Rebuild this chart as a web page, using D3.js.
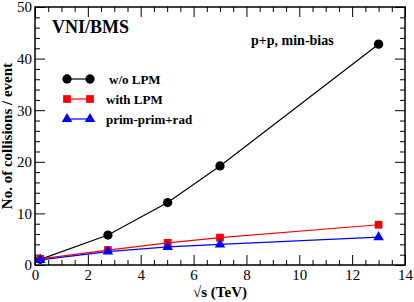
<!DOCTYPE html>
<html lang="en">
<head>
<meta charset="UTF-8">
<title>VNI/BMS collisions per event</title>
<script src="https://d3js.org/d3.v7.min.js"></script>
<style>
    body { margin: 0; background: #fff; }
    svg { display: block; font-family: "Liberation Serif", "Times New Roman", serif; }
    .tick line { stroke: #000; stroke-width: 1; }
    .domain { display: none; }
    .lbl { font-weight: bold; fill: #000; }
</style>
</head>
<body>
<script>
    // values
    const energies = [0.2, 2.76, 5.02, 7, 13];
    const woLPM = [1.1, 5.8, 12.1, 19.2, 42.8];
    const withLPM = [1.2, 2.9, 4.3, 5.3, 7.8];
    const primRad = [1.0, 2.6, 3.5, 4.0, 5.4];
    const seriesNames = ["w/o LPM", "with LPM", "prim-prim+rad"];
    const xTicks = [0, 2, 4, 6, 8, 10, 12, 14];
    const yTicks = [0, 10, 20, 30, 40, 50];

    const width = 414, height = 302;
    const margin = { top: 7, right: 9, bottom: 37, left: 35 };
    const serif = "'Liberation Serif', 'Times New Roman', serif";

    const svg = d3.select("body").append("svg")
        .attr("width", width)
        .attr("height", height);

    const x = d3.scaleLinear().domain([0, 14]).range([margin.left, width - margin.right]);
    const y = d3.scaleLinear().domain([0, 50]).range([height - margin.bottom, margin.top]);

    const xMinor = d3.range(0, 14.01, 0.5).filter(v => v % 2 !== 0);
    const yMinor = d3.range(0, 50.01, 2).filter(v => v % 10 !== 0);

    // axes, ticks pointing inward on all four sides
    const plotB = height - margin.bottom, plotT = margin.top;
    const plotL = margin.left, plotR = width - margin.right;

    function addAxis(axis, tx, ty) {
        svg.append("g")
            .attr("transform", `translate(${tx},${ty})`)
            .call(axis)
            .selectAll("text")
            .style("font-family", serif)
            .style("font-size", "15px")
            .style("font-weight", "normal")
            .attr("fill", "#000");
    }

    addAxis(d3.axisBottom(x).tickValues(xTicks).tickSize(-10).tickPadding(4), 0, plotB);
    addAxis(d3.axisBottom(x).tickValues(xMinor).tickSize(-5).tickFormat(""), 0, plotB);
    addAxis(d3.axisTop(x).tickValues(xTicks).tickSize(-10).tickFormat(""), 0, plotT);
    addAxis(d3.axisTop(x).tickValues(xMinor).tickSize(-5).tickFormat(""), 0, plotT);
    addAxis(d3.axisLeft(y).tickValues(yTicks).tickSize(-10).tickPadding(3), plotL, 0);
    addAxis(d3.axisLeft(y).tickValues(yMinor).tickSize(-5).tickFormat(""), plotL, 0);
    addAxis(d3.axisRight(y).tickValues(yTicks).tickSize(-10).tickFormat(""), plotR, 0);
    addAxis(d3.axisRight(y).tickValues(yMinor).tickSize(-5).tickFormat(""), plotR, 0);

    svg.append("rect")
        .attr("x", plotL).attr("y", plotT)
        .attr("width", plotR - plotL).attr("height", plotB - plotT)
        .attr("fill", "none").attr("stroke", "#000").attr("stroke-width", 1.5);

    // series
    const series = [
        { name: seriesNames[0], values: woLPM, color: "#000", shape: "circle" },
        { name: seriesNames[1], values: withLPM, color: "#ff0000", shape: "square" },
        { name: seriesNames[2], values: primRad, color: "#0000ff", shape: "triangle" }
    ];

    const symbolOf = s => s === "circle" ? d3.symbolCircle : s === "square" ? d3.symbolSquare : d3.symbolTriangle;
    const sizeOf = s => s === "circle" ? 68 : s === "square" ? 60 : 48;

    const line = d3.line().x(d => x(d[0])).y(d => y(d[1]));

    series.forEach(s => {
        const pts = energies.map((e, i) => [e, s.values[i]]);
        svg.append("path")
            .datum(pts)
            .attr("d", line)
            .attr("fill", "none")
            .attr("stroke", s.color)
            .attr("stroke-width", 1.2);
        svg.selectAll(null)
            .data(pts)
            .enter()
            .append("path")
            .attr("transform", d => `translate(${x(d[0])},${y(d[1])})`)
            .attr("d", d3.symbol().type(symbolOf(s.shape)).size(sizeOf(s.shape)))
            .attr("fill", s.color);
    });

    // legend
    const legend = svg.append("g");
    series.forEach((s, i) => {
        const ly = 79 + i * 20;
        legend.append("line")
            .attr("x1", 67).attr("x2", 90)
            .attr("y1", ly).attr("y2", ly)
            .attr("stroke", s.color).attr("stroke-width", 1.2);
        [67, 90].forEach(lx => {
            legend.append("path")
                .attr("transform", `translate(${lx},${ly})`)
                .attr("d", d3.symbol().type(symbolOf(s.shape)).size(sizeOf(s.shape)))
                .attr("fill", s.color);
        });
        legend.append("text")
            .attr("class", "lbl")
            .attr("x", i === 0 ? 109 : 106)
            .attr("y", ly + 4.5)
            .style("font-size", "13px")
            .text(s.name);
    });

    // annotations
    svg.append("text").attr("class", "lbl")
        .attr("x", 52).attr("y", 33)
        .style("font-size", "18px")
        .text("VNI/BMS");

    svg.append("text").attr("class", "lbl")
        .attr("x", 251).attr("y", 45)
        .style("font-size", "14px")
        .text("p+p, min-bias");

    // axis titles
    svg.append("text").attr("class", "lbl")
        .attr("x", (plotL + plotR) / 2).attr("y", 297)
        .attr("text-anchor", "middle")
        .style("font-size", "15px")
        .text("√s (TeV)");

    svg.append("text").attr("class", "lbl")
        .attr("transform", `translate(12,136) rotate(-90)`)
        .attr("text-anchor", "middle")
        .style("font-size", "15px")
        .text("No. of collisions / event");
</script>
</body>
</html>
